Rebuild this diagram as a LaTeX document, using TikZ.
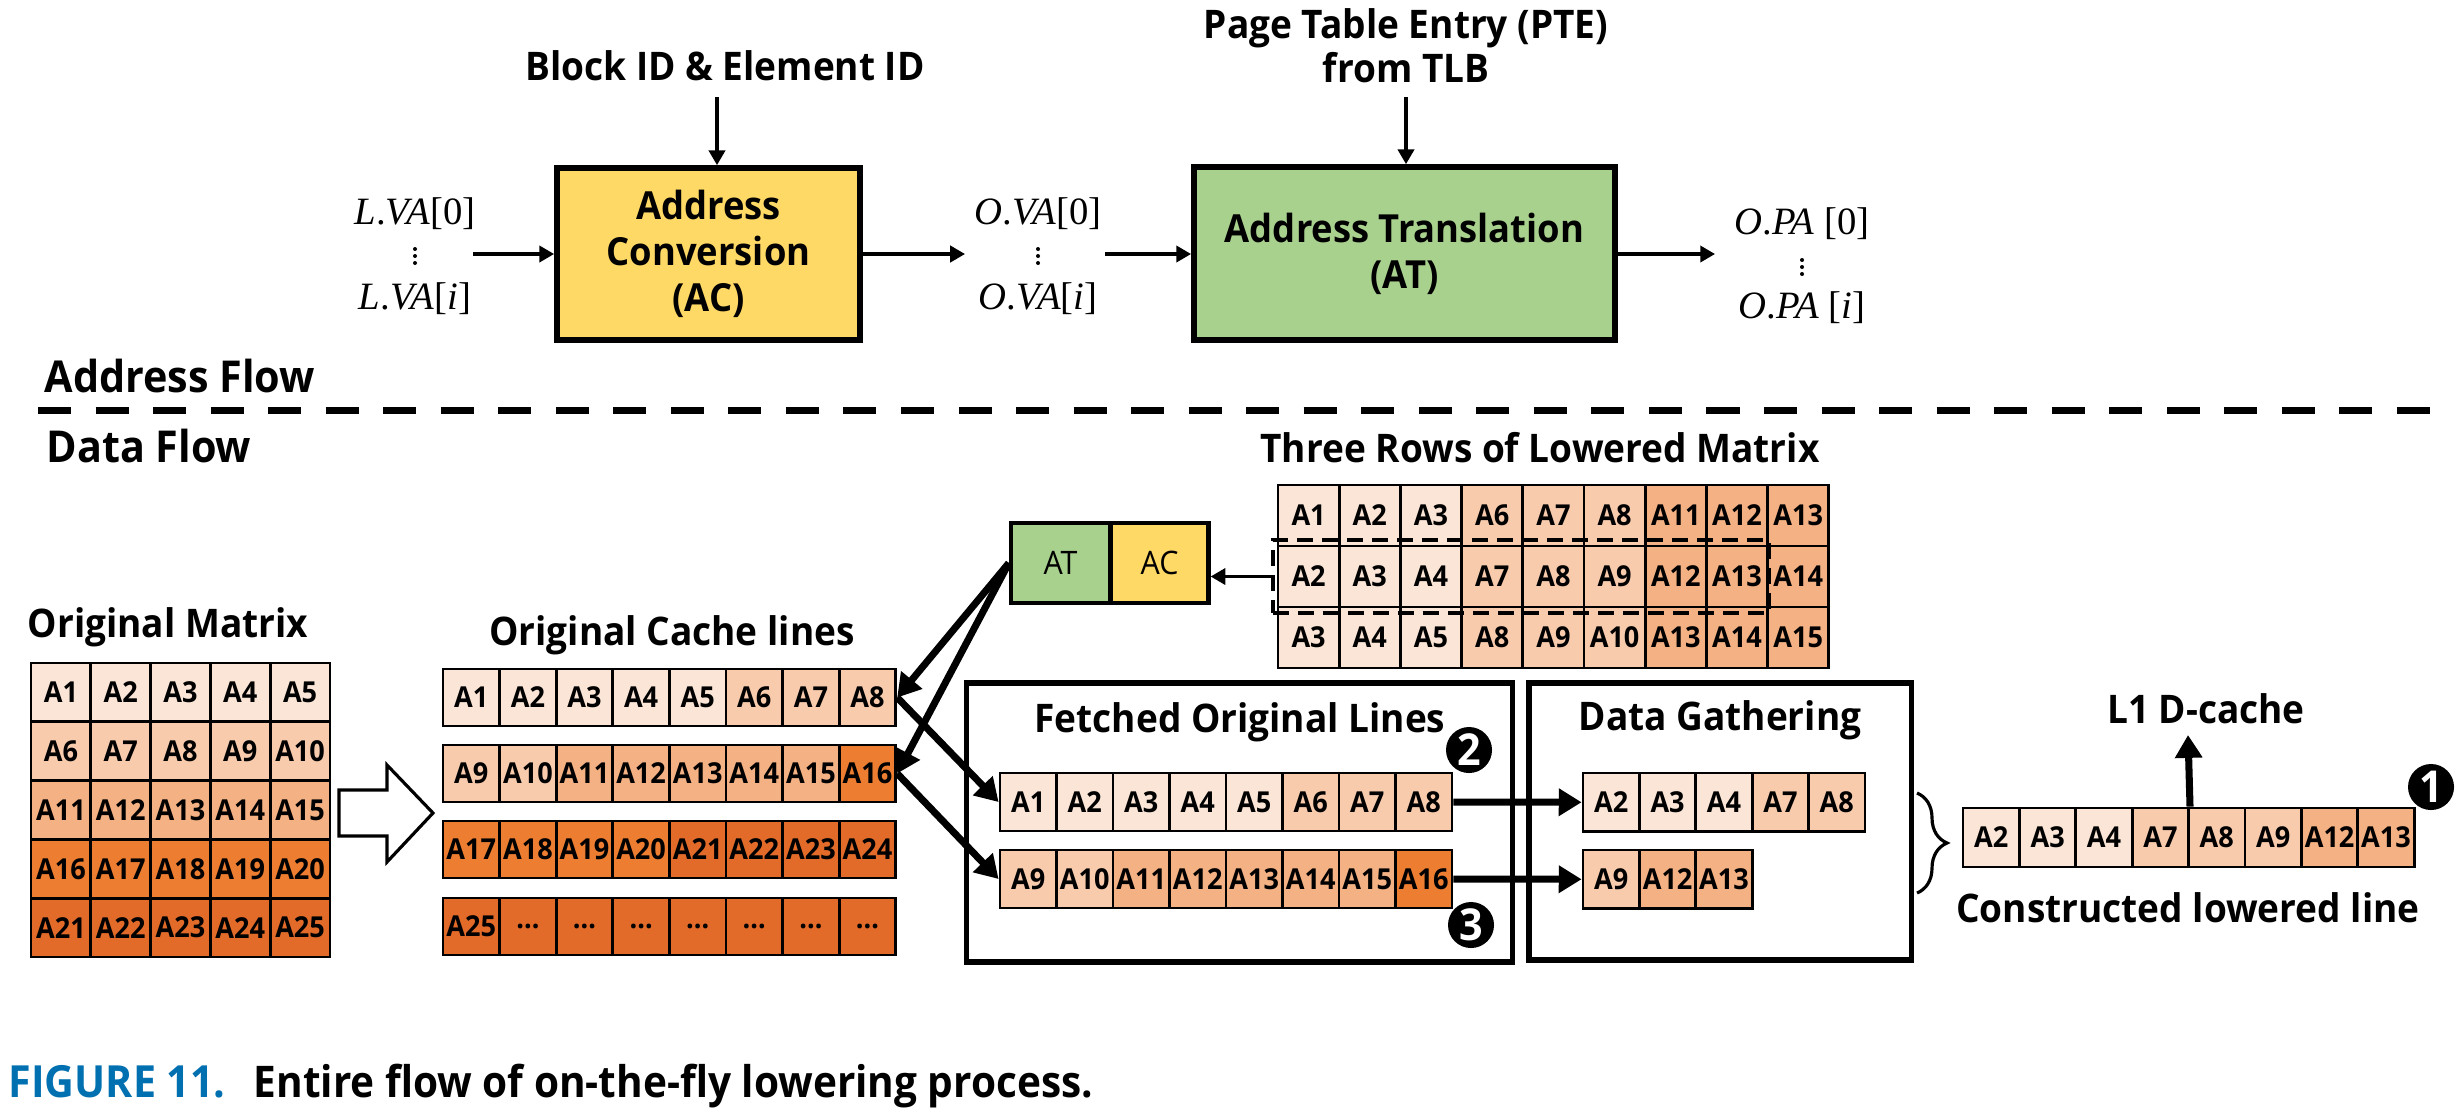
\documentclass[tikz,border=0pt]{standalone}
\usepackage{fontspec}
\setmainfont{Open Sans}
\newfontfamily\labfont[FakeStretch=0.94]{Open Sans}
\newfontfamily\capfont[FakeStretch=0.93]{Open Sans}
\newfontfamily\mfont{Liberation Serif}
\usetikzlibrary{arrows.meta,decorations.pathreplacing}
\definecolor{cA}{HTML}{FBE5D6}
\definecolor{cB}{HTML}{F8CBAD}
\definecolor{cC}{HTML}{F4B183}
\definecolor{cD}{HTML}{ED7D31}
\definecolor{cE}{HTML}{E26B2A}
\definecolor{acyel}{HTML}{FFD966}
\definecolor{atgrn}{HTML}{A9D18E}
\definecolor{capblue}{HTML}{0070B0}
\newcommand\cellrow[6]{%
  \foreach \t/\c [count=\i] in {#6} {
    \node[cell, fill=\c, minimum width=#4*0.01cm, minimum height=#5*0.01cm] (#1-\i) at ({#2+(\i-0.5)*#4},{#3+#5/2}) {\t};
  }}
\newcommand\vdotsat[2]{%
  \foreach \dy in {-7,0,7} {\fill ({#1},{#2+\dy}) circle (2);}}
\begin{document}
\begin{tikzpicture}[x=0.01cm,y=-0.01cm,
  cell/.style={draw, line width=0.8pt, inner sep=0pt, font=\labfont\bfseries\fontsize{8.2}{9}\selectfont},
  lab/.style={inner sep=0pt, anchor=base, font=\labfont\bfseries\fontsize{11.2}{13}\selectfont},
  head/.style={inner sep=0pt, anchor=base west, font=\labfont\bfseries\fontsize{12.5}{14}\selectfont},
  mathlab/.style={inner sep=0pt, anchor=base, font=\mfont\fontsize{11}{12}\selectfont},
  thinarrow/.style={line width=0.95pt, -{Triangle[length=4.2pt,width=4.6pt]}},
  thickarrow/.style={line width=2pt, -{Triangle[length=6.5pt,width=7.5pt]}},
  bigbox/.style={draw, line width=1.6pt, inner sep=0pt, align=center, font=\labfont\bfseries\fontsize{11}{13}\selectfont},
  frame/.style={draw, line width=1.5pt, inner sep=0pt},
  smallbox/.style={draw, line width=1.2pt, inner sep=0pt, font=\labfont\fontsize{9.2}{10}\selectfont, minimum height=0.8cm},
  numcirc/.style={circle, fill=black, inner sep=0pt, minimum size=0.46cm, text=white, font=\labfont\bfseries\fontsize{12.5}{12.5}\selectfont},
]
\fill[white] (0,0) rectangle (2461,1111);
\useasboundingbox (0,0) rectangle (2461,1111);

% ---------------- Address flow ----------------
\node[bigbox, fill=acyel, minimum width=3.03cm, minimum height=1.72cm] (ac) at (708.5,254) {Address\\Conversion\\(AC)};
\node[bigbox, fill=atgrn, minimum width=4.21cm, minimum height=1.73cm] (at) at (1404.5,253.5) {Address Translation\\(AT)};
\node[lab] (blk) at (725,80) {Block ID \& Element ID};
\node[lab] (pte1) at (1406,38) {Page Table Entry (PTE)};
\node[lab] (pte2) at (1406,82) {from TLB};
\coordinate (blkS) at (717,97);
\coordinate (pteS) at (1406,97);
\draw[thinarrow] (blkS) -- (blkS |- ac.north);
\draw[thinarrow] (pteS) -- (pteS |- at.north);

\node[mathlab] (lva0) at (415,224) {\textit{L}.\textit{VA}[0]};
\vdotsat{415}{256}
\node[mathlab] (lvai) at (415,309) {\textit{L}.\textit{VA}[\textit{i}]};
\node[mathlab] (ova0) at (1038,224) {\textit{O}.\textit{VA}[0]};
\vdotsat{1038}{256}
\node[mathlab] (ovai) at (1038,309) {\textit{O}.\textit{VA}[\textit{i}]};
\node[mathlab] (opa0) at (1802,234) {\textit{O}.\textit{PA} [0]};
\vdotsat{1802}{267}
\node[mathlab] (opai) at (1802,318) {\textit{O}.\textit{PA} [\textit{i}]};
\coordinate (acin) at (473,254);
\coordinate (acout) at (965,254);
\coordinate (atin) at (1105,254);
\coordinate (atout) at (1715,254);
\draw[thinarrow] (acin) -- (ac.west |- acin);
\draw[thinarrow] (ac.east |- acout) -- (acout);
\draw[thinarrow] (atin) -- (at.west |- atin);
\draw[thinarrow] (at.east |- atout) -- (atout);

\node[head] (af) at (44,392) {Address Flow};
\draw[line width=2pt, dash pattern=on 0.33cm off 0.245cm] (38,410) -- (2441,410);
\node[head] (df) at (46,462) {Data Flow};

% ---------------- Original matrix ----------------
\node[lab] (omt) at (168,637) {Original Matrix};
\cellrow{m1}{31}{663}{59.8}{58.8}{A1/cA,A2/cA,A3/cA,A4/cA,A5/cA}
\cellrow{m2}{31}{721.8}{59.8}{58.8}{A6/cB,A7/cB,A8/cB,A9/cB,A10/cB}
\cellrow{m3}{31}{780.6}{59.8}{58.8}{A11/cC,A12/cC,A13/cC,A14/cC,A15/cC}
\cellrow{m4}{31}{839.4}{59.8}{58.8}{A16/cD,A17/cD,A18/cD,A19/cD,A20/cD}
\cellrow{m5}{31}{898.2}{59.8}{58.8}{A21/cE,A22/cE,A23/cE,A24/cE,A25/cE}

\draw[line width=0.9pt, fill=white] (339,790) -- (387,790) -- (387,765) -- (433,813) -- (387,862) -- (387,836) -- (339,836) -- cycle;

% ---------------- Original cache lines ----------------
\node[lab] (oct) at (672,645) {Original Cache lines};
\cellrow{c1}{443}{669}{56.6}{57}{A1/cA,A2/cA,A3/cA,A4/cA,A5/cA,A6/cB,A7/cB,A8/cB}
\cellrow{c2}{443}{745}{56.6}{57}{A9/cB,A10/cB,A11/cC,A12/cC,A13/cC,A14/cC,A15/cC,A16/cD}
\cellrow{c3}{443}{821}{56.6}{57}{A17/cD,A18/cD,A19/cD,A20/cD,A21/cE,A22/cE,A23/cE,A24/cE}
\cellrow{c4}{443}{898}{56.6}{57}{A25/cE,\dots/cE,\dots/cE,\dots/cE,\dots/cE,\dots/cE,\dots/cE,\dots/cE}

% ---------------- Three rows of lowered matrix ----------------
\node[lab] (trt) at (1540,462) {Three Rows of Lowered Matrix};
\cellrow{l1}{1278}{485}{61.2}{61}{A1/cA,A2/cA,A3/cA,A6/cB,A7/cB,A8/cB,A11/cC,A12/cC,A13/cC}
\cellrow{l2}{1278}{546}{61.2}{61}{A2/cA,A3/cA,A4/cA,A7/cB,A8/cB,A9/cB,A12/cC,A13/cC,A14/cC}
\cellrow{l3}{1278}{607}{61.2}{61}{A3/cA,A4/cA,A5/cA,A8/cB,A9/cB,A10/cB,A13/cC,A14/cC,A15/cC}
\node[draw, line width=1.1pt, dash pattern=on 0.16cm off 0.09cm, inner sep=0pt, minimum width=4.96cm, minimum height=0.73cm] (sel) at (1521,576.5) {};

% ---------------- AT / AC unit ----------------
\node[smallbox, fill=atgrn, minimum width=0.99cm] (ats) at (1060.5,563) {AT};
\node[smallbox, fill=acyel, minimum width=0.98cm] (acs) at (1159.5,563) {AC};
\draw[thinarrow] (sel.west) -- (sel.west -| acs.east);
\draw[thickarrow] (ats.west) -- (c1-8.east);
\draw[thickarrow] (ats.west) -- (c2-8.east);

% ---------------- Fetched original lines ----------------
\node[frame, minimum width=5.45cm, minimum height=2.79cm] (fbox) at (1239.5,822.5) {};
\node[lab] (fot) at (1240,732) {Fetched Original Lines};
\cellrow{f1}{1000}{773}{56.5}{58}{A1/cA,A2/cA,A3/cA,A4/cA,A5/cA,A6/cB,A7/cB,A8/cB}
\cellrow{f2}{1000}{850}{56.5}{58}{A9/cB,A10/cB,A11/cC,A12/cC,A13/cC,A14/cC,A15/cC,A16/cD}
\node[numcirc] (n2) at (1469,750) {2};
\node[numcirc] (n3) at (1471,925) {3};
\draw[thickarrow] (c1-8.east) -- (f1-1.west);
\draw[thickarrow] (c2-8.east) -- (f2-1.west);

% ---------------- Data gathering ----------------
\node[frame, minimum width=3.82cm, minimum height=2.77cm] (gbox) at (1720,821.5) {};
\node[lab] (dgt) at (1720,730) {Data Gathering};
\cellrow{g1}{1583}{773}{56.4}{58.5}{A2/cA,A3/cA,A4/cA,A7/cB,A8/cB}
\cellrow{g2}{1583}{850}{56.4}{58.5}{A9/cB,A12/cC,A13/cC}
\draw[thickarrow] (f1-8.east) -- (g1-1.west);
\draw[thickarrow] (f2-8.east) -- (g2-1.west);

\draw[line width=0.9pt, decorate, decoration={brace, amplitude=0.3cm}] (1917,793) -- (1917,893);

% ---------------- Constructed lowered line ----------------
\cellrow{k}{1963}{808}{56.4}{59}{A2/cA,A3/cA,A4/cA,A7/cB,A8/cB,A9/cB,A12/cC,A13/cC}
\node[lab] (clt) at (2188,922) {Constructed lowered line};
\node[lab] (l1t) at (2206,723) {L1 D-cache};
\coordinate (l1tip) at (2188,735);
\draw[thickarrow] (k-4.north east) -- (l1tip);
\node[numcirc] (n1) at (2431,787) {1};

% ---------------- Caption ----------------
\node[inner sep=0pt, anchor=base west, text=capblue, font=\capfont\bfseries\fontsize{12.6}{14}\selectfont] (cap1) at (8,1097) {FIGURE 11.};
\node[inner sep=0pt, anchor=base west, font=\capfont\bfseries\fontsize{12.4}{14}\selectfont] (cap2) at (253,1097) {Entire flow of on-the-fly lowering process.};
\end{tikzpicture}
\end{document}
